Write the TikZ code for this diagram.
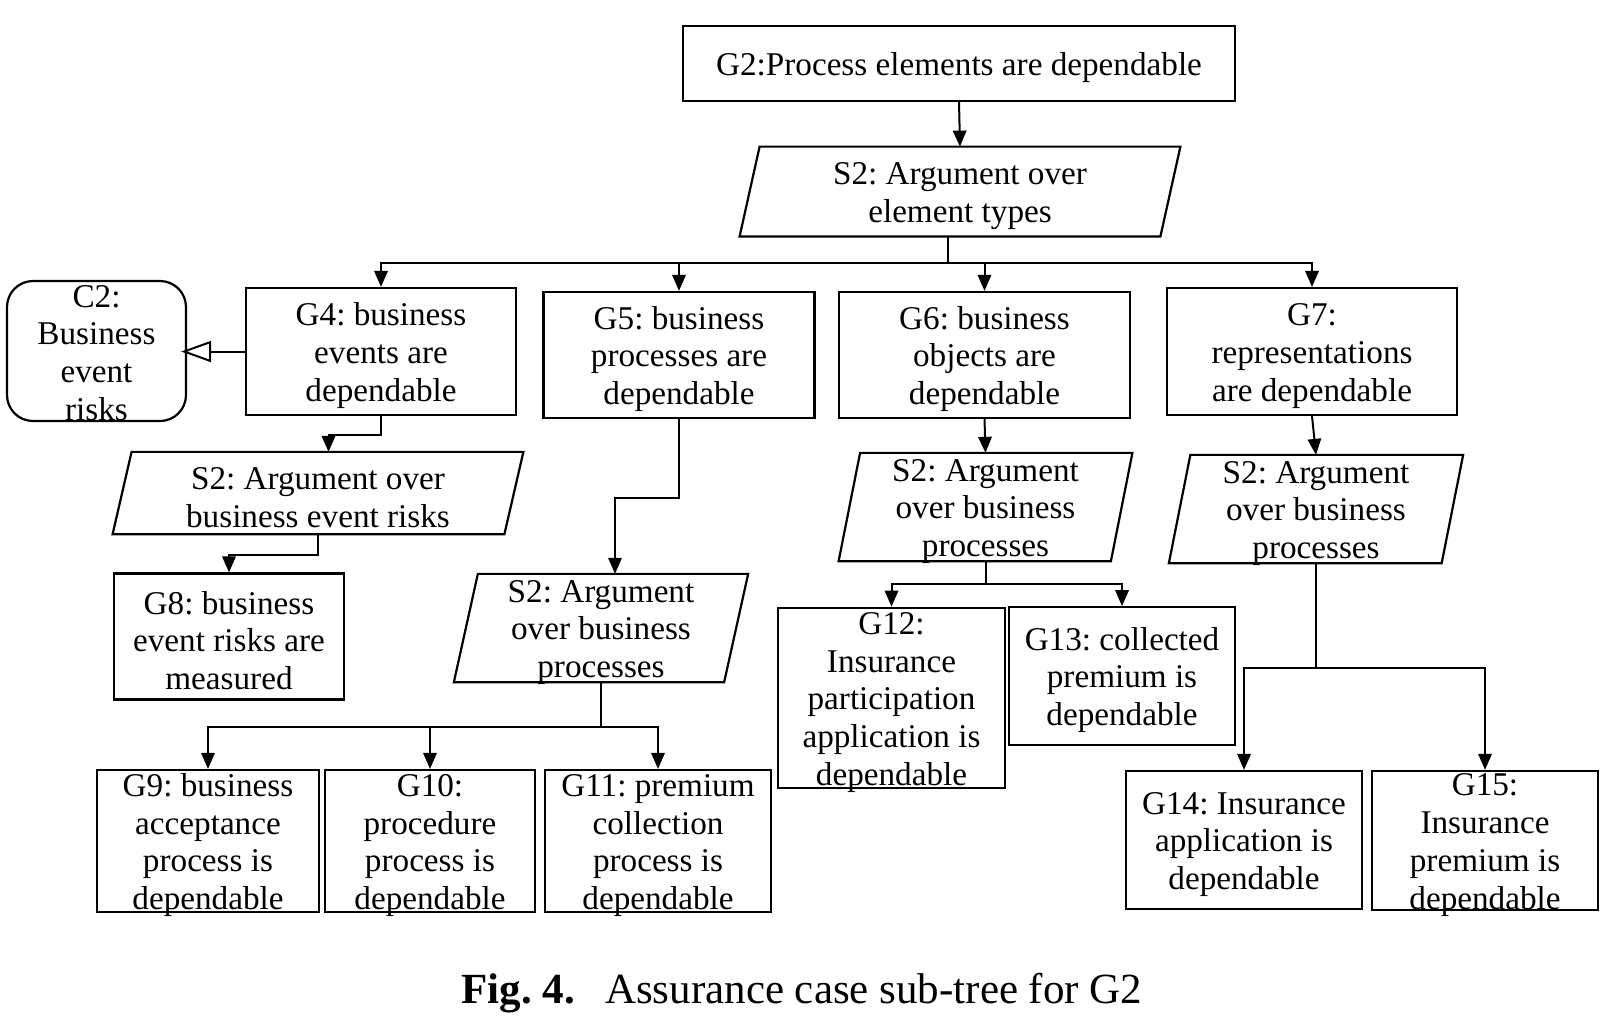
\documentclass[tikz,border=0pt]{standalone}
\usepackage{fontspec}
\setmainfont{Liberation Serif}
\usetikzlibrary{arrows.meta,calc}
\newcommand\fstrut{\rule{0pt}{15.5pt}}
\newcommand\cstrut{\rule{0pt}{13pt}}
\begin{document}
\frenchspacing
\begin{tikzpicture}[x=0.5pt,y=-0.5pt,
  txt/.style={inner xsep=0pt,inner ysep=-14pt,align=center,font=\fontsize{16.6}{18.9}\selectfont\frenchspacing},
  goal/.style={txt,draw,line width=1.1pt},
  ctx/.style={txt,draw,line width=1.1pt,rounded corners=13pt},
  strat/.style={txt},
  pgram/.style={line width=1.1pt,line join=miter},
  arr/.style={line width=1pt,-{Triangle[length=8pt,width=6.7pt]}},
  conn/.style={line width=1pt},
  inctx/.style={line width=1pt,-{Triangle[open,length=15pt,width=10.5pt,line width=1pt]}}]
\useasboundingbox[fill=white] (0,0) rectangle (1620,1025);

% top
\node[goal,minimum width=276pt,minimum height=37.5pt] (G2) at (959,63.5) {\fstrut G2:Process elements are dependable};
\node[strat,minimum width=220pt,minimum height=44.5pt] (S2top) at (960,191.5) {\fstrut S2: Argument over\\element types};
\draw[pgram] ($(S2top.north west)+(20,0)$) -- (S2top.north east) -- ($(S2top.south east)-(20,0)$) -- (S2top.south west) -- cycle;

% second level
\node[ctx,minimum width=89.5pt,minimum height=70pt] (C2) at (96.5,351) {\cstrut C2:\\Business\\event\\risks};
\node[goal,minimum width=135pt,minimum height=63.5pt] (G4) at (381,351.5) {\fstrut G4: business\\events are\\dependable};
\node[goal,minimum width=135.5pt,minimum height=63pt] (G5) at (679,355) {\fstrut G5: business\\processes are\\dependable};
\node[goal,minimum width=145.5pt,minimum height=63pt] (G6) at (984.5,355) {\fstrut G6: business\\objects are\\dependable};
\node[goal,minimum width=145pt,minimum height=63.5pt] (G7) at (1312,351.5) {\fstrut G7:\\representations\\are dependable};

% strategies
\node[strat,minimum width=205pt,minimum height=40.75pt] (S2a) at (318,493) {\fstrut S2: Argument over\\business event risks};
\draw[pgram] ($(S2a.north west)+(19,0)$) -- (S2a.north east) -- ($(S2a.south east)-(19,0)$) -- (S2a.south west) -- cycle;
\node[strat,minimum width=146.75pt,minimum height=53.75pt] (S2b) at (601,628) {\fstrut S2: Argument\\over business\\processes};
\draw[pgram] ($(S2b.north west)+(24,0)$) -- (S2b.north east) -- ($(S2b.south east)-(24,0)$) -- (S2b.south west) -- cycle;
\node[strat,minimum width=146.5pt,minimum height=53.75pt] (S2c) at (985.5,507) {\fstrut S2: Argument\\over business\\processes};
\draw[pgram] ($(S2c.north west)+(21.5,0)$) -- (S2c.north east) -- ($(S2c.south east)-(21.5,0)$) -- (S2c.south west) -- cycle;
\node[strat,minimum width=146.75pt,minimum height=53.75pt] (S2d) at (1316,509) {\fstrut S2: Argument\\over business\\processes};
\draw[pgram] ($(S2d.north west)+(21.5,0)$) -- (S2d.north east) -- ($(S2d.south east)-(21.5,0)$) -- (S2d.south west) -- cycle;

% leaves
\node[goal,minimum width=115pt,minimum height=63pt] (G8) at (229,636.5) {\fstrut G8: business\\event risks are\\measured};
\node[goal,minimum width=111pt,minimum height=71pt] (G9) at (208,841) {\fstrut G9: business\\acceptance\\process is\\dependable};
\node[goal,minimum width=104.75pt,minimum height=71pt] (G10) at (430,841) {\fstrut G10:\\procedure\\process is\\dependable};
\node[goal,minimum width=112.75pt,minimum height=71pt] (G11) at (658,841) {\fstrut G11: premium\\collection\\process is\\dependable};
\node[goal,minimum width=113.5pt,minimum height=90.25pt] (G12) at (891.5,698) {\fstrut G12:\\Insurance\\participation\\application is\\dependable};
\node[goal,minimum width=112.8pt,minimum height=68.75pt] (G13) at (1122,676) {\fstrut G13: collected\\premium is\\dependable};
\node[goal,minimum width=118pt,minimum height=69pt] (G14) at (1244,840) {\fstrut G14: Insurance\\application is\\dependable};
\node[goal,minimum width=113pt,minimum height=69.5pt] (G15) at (1485,840.5) {\fstrut G15:\\Insurance\\premium is\\dependable};

% connectors
\draw[arr] (G2.south) -- (S2top.north);
\coordinate (b1) at (948,262.5);
\draw[conn] (b1 |- S2top.south) -- (b1);
\draw[arr] (b1) -| (G4.north);
\draw[arr] (b1) -| (G5.north);
\draw[arr] (b1) -| (G6.north);
\draw[arr] (b1) -| (G7.north);
\draw[inctx] (G4.west) -- ($(G4.west -| C2.east)+(-6,0)$);
\draw[arr] (G4.south) -- ++(0,19) -| ($(S2a.north)+(10.5,0)$);
\draw[arr] (S2a.south) -- ++(0,21) -| (G8.north);
\draw[arr] (G5.south) -- ++(0,78.5) -| ($(S2b.north)+(14,0)$);
\coordinate (b2) at ($(S2b.south)+(0,44.5)$);
\draw[conn] (S2b.south) -- (b2);
\draw[arr] (b2) -| (G9.north);
\draw[arr] (b2) -| (G10.north);
\draw[arr] (b2) -| (G11.north);
\draw[arr] (G6.south) -- (S2c.north);
\coordinate (b3) at ($(S2c.south)+(0,23)$);
\draw[conn] (S2c.south) -- (b3);
\draw[arr] (b3) -| (G12.north);
\draw[arr] (b3) -| (G13.north);
\draw[arr] (G7.south) -- (S2d.north);
\coordinate (b4) at ($(S2d.south)+(0,104.5)$);
\draw[conn] (S2d.south) -- (b4);
\draw[arr] (b4) -| (G14.north);
\draw[arr] (b4) -| (G15.north);

% caption
\node[inner sep=0pt,font=\fontsize{21.5}{26}\selectfont] (cap) at (802,993) {\textbf{Fig. 4.}\hspace{15pt}Assurance case sub-tree for G2};
\end{tikzpicture}
\end{document}
